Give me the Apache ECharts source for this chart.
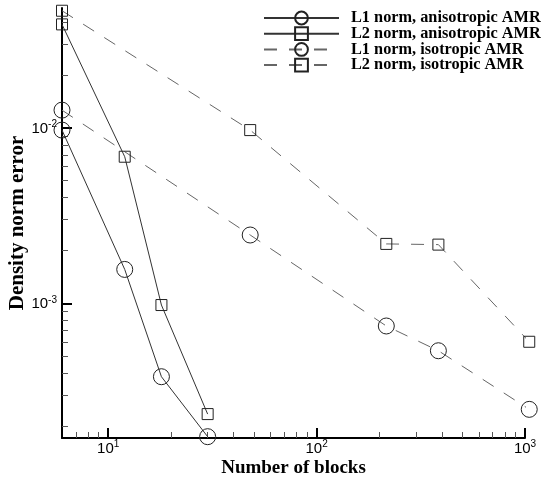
<!DOCTYPE html>
<html><head><meta charset="utf-8">
<script src="https://cdn.jsdelivr.net/npm/echarts@6/dist/echarts.min.js"></script>
<style>html,body{margin:0;padding:0;background:#fff}#c{width:545px;height:478px}</style>
</head><body><div id="c"></div>
<script>
// ---- data ----
const seriesNames = ['L1 norm, anisotropic AMR', 'L2 norm, anisotropic AMR', 'L1 norm, isotropic AMR', 'L2 norm, isotropic AMR'];
const xAniso = [6, 12, 18, 30];
const l1Aniso = [0.0097, 0.00156, 0.000382, 0.000174];
const l2Aniso = [0.0388, 0.00684, 0.000978, 0.000234];
const xIso = [6, 48, 216, 384, 1048];
const l1Iso = [0.0126, 0.00245, 0.000743, 0.000537, 0.000249];
const l2Iso = [0.0464, 0.0097, 0.00218, 0.00216, 0.000604];
const xMajorTicks = [10, 100, 1000];
const xMinorTicks = [7, 8, 9, 20, 30, 40, 50, 60, 70, 80, 90, 200, 300, 400, 500, 600, 700, 800, 900];
const yMajorTicks = [0.001, 0.01];
const yMinorTicks = [0.0002, 0.0003, 0.0004, 0.0005, 0.0006, 0.0007, 0.0008, 0.0009,
  0.002, 0.003, 0.004, 0.005, 0.006, 0.007, 0.008, 0.009, 0.02, 0.03, 0.04];
const xRange = [6, 1000];
const yRange = [0.000171, 0.0481];

const pairs = (xs, ys) => xs.map((x, i) => [x, ys[i]]);
const supFmt = v => '{base|10}{sup|' + Math.round(Math.log10(v)) + '}';
const rich = {
  base: { fontFamily: 'Liberation Sans', fontSize: 15, color: '#000', verticalAlign: 'bottom', lineHeight: 17 },
  sup: { fontFamily: 'Liberation Sans', fontSize: 10, color: '#000', verticalAlign: 'top', lineHeight: 17 }
};
const titleFont = { fontFamily: 'Liberation Serif', fontWeight: 'bold', fontSize: 19, color: '#000' };

function majorAxis(range, ticks, margin, extra) {
  return Object.assign({
    type: 'log', logBase: 10, min: range[0], max: range[1],
    nameMoveOverlap: false,
    axisLine: { show: true, lineStyle: { color: '#000', width: 2 } },
    axisTick: { show: true, inside: true, length: 10, lineStyle: { color: '#000', width: 2 }, customValues: ticks },
    axisLabel: { show: true, customValues: ticks, formatter: supFmt, rich: rich, margin: margin,
      fontFamily: 'Liberation Sans', fontSize: 15, color: '#000' },
    splitLine: { show: false }, minorTick: { show: false }, minorSplitLine: { show: false }
  }, extra);
}
function minorAxis(range, ticks, extra) {
  return Object.assign({
    type: 'log', logBase: 10, min: range[0], max: range[1],
    axisLine: { show: false },
    axisTick: { show: true, inside: true, length: 6, lineStyle: { color: '#555', width: 1 }, customValues: ticks },
    axisLabel: { show: false },
    splitLine: { show: false }, minorTick: { show: false }
  }, extra);
}

function mkSeries(name, data, symbol, size, dashed) {
  return {
    name: name, type: 'line', data: data, xAxisIndex: 0, yAxisIndex: 0,
    symbol: symbol, symbolSize: size, showSymbol: true, clip: false,
    lineStyle: { color: dashed ? '#666' : '#333', width: 1, type: dashed ? [13, 12] : 'solid' },
    itemStyle: { color: 'rgba(0,0,0,0)', borderColor: '#222', borderWidth: 1 },
    emphasis: { disabled: true }, animation: false, z: 3
  };
}

const chart = echarts.init(document.getElementById('c'), null, { renderer: 'canvas' });
chart.setOption({
  backgroundColor: '#fff',
  animation: false,
  grid: { left: 62, right: 20, top: 8, bottom: 40, containLabel: false, outerBoundsMode: 'none' },
  legend: {
    orient: 'vertical', left: 263, top: 10, padding: 0,
    itemWidth: 75, itemHeight: 16, itemGap: -0.3,
    textStyle: { fontFamily: 'Liberation Serif', fontWeight: 'bold', fontSize: 16.3, color: '#000', padding: [0, 0, 0, 7], lineHeight: 14 },
    data: seriesNames
  },
  xAxis: [
    majorAxis(xRange, xMajorTicks, 1, { position: 'bottom', name: 'Number of blocks', nameLocation: 'middle', nameGap: 21, nameTextStyle: titleFont }),
    minorAxis(xRange, xMinorTicks, { position: 'bottom' })
  ],
  yAxis: [
    majorAxis(yRange, yMajorTicks, 5, { position: 'left', name: 'Density norm error', nameLocation: 'middle', nameGap: 34, nameRotate: 90,
      nameTextStyle: Object.assign({}, titleFont, { fontSize: 21 }) }),
    minorAxis(yRange, yMinorTicks, { position: 'left' })
  ],
  series: [
    mkSeries(seriesNames[0], pairs(xAniso, l1Aniso), 'circle', 16, false),
    mkSeries(seriesNames[1], pairs(xAniso, l2Aniso), 'rect', 11, false),
    mkSeries(seriesNames[2], pairs(xIso, l1Iso), 'circle', 16, true),
    mkSeries(seriesNames[3], pairs(xIso, l2Iso), 'rect', 11, true)
  ]
});
</script>
</body></html>
